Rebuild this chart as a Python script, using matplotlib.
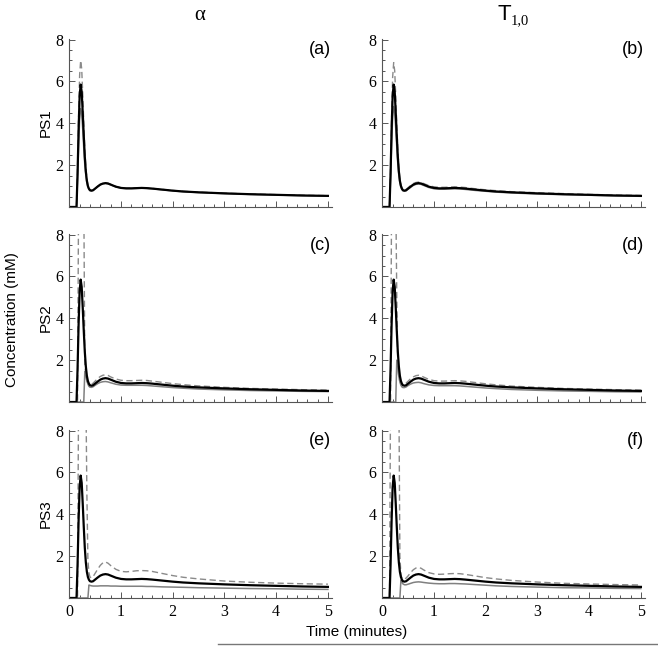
import matplotlib
matplotlib.use("Agg")
import matplotlib.pyplot as plt
from matplotlib.lines import Line2D
from matplotlib.ticker import MultipleLocator

# time grid (minutes)
t = [0, 0.14, 0.16, 0.18, 0.20, 0.22, 0.24, 0.26, 0.28, 0.30, 0.32, 0.34, 0.36, 0.38, 0.40,
     0.43, 0.46, 0.50, 0.55, 0.60, 0.65, 0.70, 0.75, 0.80, 0.90,
     1.0, 1.1, 1.2, 1.3, 1.4, 1.5, 1.6,
     1.8, 2.0, 2.2, 2.5, 3.0, 3.5, 4.0, 4.5, 5.0]

# reference curve (same in every panel)
ref = [0, 0, 1.6, 3.7, 5.3, 5.85, 5.5, 4.5, 3.4, 2.4, 1.7, 1.25, 1.0, 0.87, 0.8,
       0.78, 0.8, 0.88, 0.98, 1.07, 1.12, 1.14, 1.12, 1.07, 0.97,
       0.91, 0.89, 0.89, 0.9, 0.91, 0.9, 0.88,
       0.83, 0.78, 0.74, 0.70, 0.65, 0.61, 0.58, 0.55, 0.53]

# upper (dashed) and lower (grey) curves per panel
upper_a = [0, 0, 1.9, 4.4, 6.3, 7.0, 6.6, 5.4, 4.0, 2.8, 1.9, 1.35, 1.05, 0.9, 0.82,
           0.79, 0.81, 0.89, 0.99, 1.08, 1.13, 1.15, 1.13, 1.08, 0.98,
           0.92, 0.9, 0.9, 0.91, 0.92, 0.91, 0.89,
           0.84, 0.79, 0.75, 0.71, 0.66, 0.62, 0.59, 0.56, 0.54]
lower_a = [0, 0, 1.3, 2.9, 4.2, 4.7, 4.45, 3.7, 2.8, 2.0, 1.5, 1.15, 0.95, 0.84, 0.78,
           0.77, 0.79, 0.87, 0.97, 1.06, 1.11, 1.13, 1.11, 1.06, 0.96,
           0.9, 0.88, 0.88, 0.89, 0.9, 0.89, 0.87,
           0.82, 0.77, 0.73, 0.69, 0.64, 0.6, 0.57, 0.54, 0.52]

upper_b = [0, 0, 1.9, 4.3, 6.2, 6.9, 6.5, 5.3, 3.9, 2.75, 1.9, 1.35, 1.06, 0.91, 0.84,
           0.82, 0.84, 0.92, 1.03, 1.12, 1.17, 1.19, 1.17, 1.12, 1.02,
           0.96, 0.94, 0.94, 0.95, 0.96, 0.95, 0.93,
           0.87, 0.82, 0.78, 0.73, 0.68, 0.64, 0.6, 0.57, 0.55]
lower_b = [0, 0, 1.35, 3.0, 4.3, 4.8, 4.5, 3.75, 2.85, 2.05, 1.5, 1.15, 0.95, 0.83, 0.77,
           0.75, 0.77, 0.85, 0.94, 1.03, 1.08, 1.1, 1.08, 1.03, 0.93,
           0.87, 0.85, 0.85, 0.86, 0.87, 0.86, 0.84,
           0.79, 0.75, 0.71, 0.67, 0.62, 0.59, 0.56, 0.53, 0.51]

upper_c = [0, 0, 0, 10, 10, 10, 10, 10, 10, 1.8, 1.2, 1.0, 0.9, 0.85, 0.83,
           0.84, 0.9, 1.0, 1.13, 1.22, 1.28, 1.3, 1.27, 1.2, 1.1,
           1.04, 1.02, 1.02, 1.03, 1.04, 1.03, 1.0,
           0.94, 0.88, 0.83, 0.77, 0.7, 0.65, 0.62, 0.59, 0.57]
lower_c = [0, 0, 0, 0, 0, 0, 0, 0, 0, 1.45, 1.25, 1.02, 0.85, 0.75, 0.71,
           0.7, 0.73, 0.8, 0.88, 0.94, 0.97, 0.98, 0.96, 0.92, 0.85,
           0.81, 0.8, 0.8, 0.8, 0.8, 0.79, 0.77,
           0.73, 0.69, 0.66, 0.62, 0.58, 0.55, 0.53, 0.51, 0.5]

upper_d = [0, 0, 0, 10, 10, 10, 10, 10, 5, 1.6, 1.2, 1.0, 0.9, 0.86, 0.84,
           0.85, 0.9, 1.0, 1.12, 1.2, 1.26, 1.28, 1.25, 1.19, 1.08,
           1.02, 1.0, 1.0, 1.01, 1.02, 1.01, 0.99,
           0.93, 0.87, 0.82, 0.76, 0.7, 0.65, 0.62, 0.59, 0.57]
lower_d = [0, 0, 0, 0, 0, 0, 0, 0, 2.0, 1.7, 1.2, 0.95, 0.8, 0.72, 0.69,
           0.69, 0.72, 0.79, 0.86, 0.91, 0.93, 0.94, 0.92, 0.88, 0.82,
           0.79, 0.78, 0.78, 0.78, 0.78, 0.77, 0.75,
           0.71, 0.67, 0.64, 0.6, 0.56, 0.53, 0.51, 0.49, 0.48]

upper_e = [0, 0, 0, 10, 10, 10, 10, 10, 10, 10, 10, 5, 1.8, 1.2, 1.0,
           0.96, 1.02, 1.18, 1.38, 1.56, 1.68, 1.72, 1.66, 1.55, 1.37,
           1.27, 1.25, 1.27, 1.3, 1.31, 1.3, 1.27,
           1.17, 1.07, 0.99, 0.91, 0.81, 0.75, 0.71, 0.68, 0.66]
lower_e = [0, 0, 0, 0, 0, 0, 0, 0, 0, 0, 0, 0, 0, 0.62, 0.6,
           0.58, 0.57, 0.57, 0.57, 0.58, 0.58, 0.58, 0.58, 0.57, 0.57,
           0.56, 0.56, 0.56, 0.56, 0.56, 0.55, 0.55,
           0.53, 0.52, 0.51, 0.49, 0.47, 0.45, 0.44, 0.42, 0.41]

upper_f = [0, 0, 10, 10, 10, 10, 10, 10, 10, 10, 10, 2.0, 1.1, 0.95, 0.9,
           0.9, 0.95, 1.06, 1.22, 1.35, 1.43, 1.46, 1.42, 1.34, 1.21,
           1.15, 1.13, 1.14, 1.16, 1.17, 1.16, 1.13,
           1.05, 0.97, 0.91, 0.84, 0.76, 0.7, 0.67, 0.64, 0.62]
lower_f = [0, 0, 0, 0, 0, 0, 0, 0, 0, 0, 0, 0, 0.85, 0.75, 0.67,
           0.63, 0.63, 0.66, 0.7, 0.74, 0.76, 0.77, 0.76, 0.74, 0.71,
           0.69, 0.68, 0.68, 0.69, 0.69, 0.68, 0.67,
           0.64, 0.61, 0.58, 0.55, 0.52, 0.49, 0.48, 0.46, 0.45]

panels = [
    ("(a)", upper_a, lower_a), ("(b)", upper_b, lower_b),
    ("(c)", upper_c, lower_c), ("(d)", upper_d, lower_d),
    ("(e)", upper_e, lower_e), ("(f)", upper_f, lower_f),
]
row_names = ["PS1", "PS2", "PS3"]

serif = "Liberation Serif"
sans = "Liberation Sans"
axcol = "#555555"

fig = plt.figure(figsize=(6.58, 6.48), dpi=100)

lefts = [0.1053, 0.581]
bottoms = [0.6806, 0.3796, 0.0772]
w, h = 0.3993, 0.2593

for i, (lab, up, lo) in enumerate(panels):
    r, c = divmod(i, 2)
    ax = fig.add_axes([lefts[c], bottoms[r], w, h])
    ax.plot(t, lo, color="#808080", lw=1.1)
    ax.plot(t, up, color="#8a8a8a", lw=1.0, dashes=(4.5, 2.5))
    ax.plot(t, ref, color="black", lw=1.6)
    ax.set_xlim(0, 5.08)
    ax.set_ylim(0, 8.03)
    for s in ["top", "right"]:
        ax.spines[s].set_visible(False)
    for s in ["left", "bottom"]:
        ax.spines[s].set_color(axcol)
        ax.spines[s].set_linewidth(0.8)
    ax.xaxis.set_major_locator(MultipleLocator(1))
    ax.xaxis.set_minor_locator(MultipleLocator(0.2))
    ax.set_yticks([2, 4, 6, 8])
    ax.yaxis.set_minor_locator(MultipleLocator(0.5))
    ax.tick_params(which="both", direction="in", color=axcol, width=0.7)
    ax.tick_params(which="major", length=4.5)
    ax.tick_params(which="minor", length=2.5)
    ax.tick_params(axis="y", pad=4)
    ax.tick_params(axis="x", pad=4)
    for tl in ax.get_yticklabels():
        tl.set_fontfamily(serif)
        tl.set_fontsize(11.5)
    if r == 2:
        for tl in ax.get_xticklabels():
            tl.set_fontfamily(serif)
            tl.set_fontsize(11.5)
    else:
        ax.set_xticklabels([])
    ax.text(0.995, 0.985, lab, transform=ax.transAxes, ha="right", va="top",
            fontsize=13, family=sans)
    if c == 0:
        fig.text(46 / 658, bottoms[r] + h / 2, row_names[r], rotation=90,
                 ha="center", va="center", fontsize=11, family=sans)

# column titles
fig.text(200 / 658, 1 - 16 / 648, "\u03b1", ha="center", va="center",
         fontsize=15, family=serif)
fig.text(511 / 658, 1 - 15 / 648, "T", ha="right", va="center",
         fontsize=16, family=sans)
fig.text(511 / 658, 1 - 21 / 648, "1,0", ha="left", va="center",
         fontsize=10.5, family=serif)

fig.text(12 / 658, 1 - 320 / 648, "Concentration (mM)", rotation=90,
         ha="center", va="center", fontsize=11, family=sans)
fig.text(357 / 658, 1 - 632 / 648, "Time (minutes)", ha="center", va="center",
         fontsize=11, family=sans)

fig.add_artist(Line2D([218 / 658, 1.0], [1 - 644 / 648, 1 - 644 / 648],
                      color="#777777", lw=1.0, transform=fig.transFigure))

fig.savefig("out.png", dpi=100)
